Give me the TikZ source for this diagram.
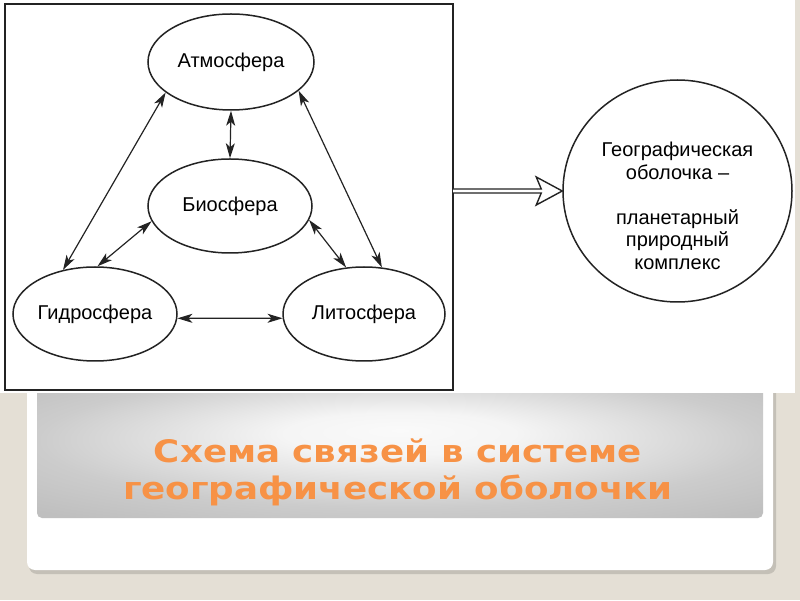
\documentclass[tikz,border=0pt]{standalone}
\usepackage{fontspec}
\setmainfont{Liberation Sans}
\newfontfamily\titlefont[FakeStretch=1.15]{DejaVu Sans}
\usetikzlibrary{arrows.meta,shapes.geometric}
\definecolor{slidebg}{RGB}{228,223,213}
\definecolor{titleorange}{RGB}{247,146,70}
\definecolor{ink}{RGB}{35,35,35}
\pgfdeclareradialshading{bandshade}{\pgfpoint{0bp}{8bp}}{color(0bp)=(gray!4); color(8bp)=(gray!8); color(25bp)=(gray!40); color(35bp)=(gray!50); color(50bp)=(gray!52)}

\begin{document}
\begin{tikzpicture}[x=1pt,y=1pt,
  sphere/.style={ellipse,draw=ink,line width=1.5pt,minimum width=164pt,minimum height=94pt,inner sep=0pt,font=\fontsize{20}{23}\selectfont},
  link/.style={<->,draw=ink,line width=1.2pt},
  >={Stealth[length=15pt,width=9pt,inset=4pt]}]
\useasboundingbox (0,0) rectangle (800,600);
\fill[slidebg] (0,0) rectangle (800,600);
% slide card and title band
\fill[black!14!slidebg,rounded corners=8pt] (29,26) rectangle (776,560);
\fill[white,rounded corners=8pt] (27,30) rectangle (773,600);
\shade[shading=bandshade,rounded corners=5pt] (37,82) rectangle (763,215);
\node[font=\titlefont\bfseries\fontsize{31}{37}\selectfont,text=titleorange,align=center] (title) at (398,128) {Схема связей в системе\\географической оболочки};
% picture
\fill[white] (0,207) rectangle (795,600);
\draw[ink,line width=1.8pt] (5,210) rectangle (453,596);

\node[sphere,minimum width=166pt,minimum height=96pt] (atm) at (231,538) {Атмосфера};
\node[sphere] (bio) at (230,394) {Биосфера};
\node[sphere] (hyd) at (95,286) {Гидросфера};
\node[sphere,minimum width=162pt] (lit) at (364,286) {Литосфера};

\draw[link] (atm.205) -- (hyd.126);
\draw[link] (atm.337) -- (lit.69);
\draw[link] (atm.south) -- (bio.north);
\draw[link] (bio.191) -- (hyd.87);
\draw[link] (bio.350) -- (lit.111);
\draw[link] (hyd.357) -- (lit.183);

\node[ellipse,draw=ink,line width=1.5pt,minimum width=229pt,minimum height=222pt] (geo) at (677.5,409) {};
\node[align=center,font=\fontsize{20}{22.5}\selectfont] (geotext) at ([yshift=-15pt]geo.center) {Географическая\\оболочка –\\[22.5pt]планетарный\\природный\\комплекс};

\coordinate (out) at (453,409);
\draw[ink,line width=1.4pt,fill=white] ([yshift=2pt]out) -- ([shift={(-21,2)}]geo.west) -- ([shift={(-26,14)}]geo.west) -- (geo.west)
  -- ([shift={(-26,-14)}]geo.west) -- ([shift={(-21,-2)}]geo.west) -- ([yshift=-2pt]out);
\end{tikzpicture}
\end{document}
